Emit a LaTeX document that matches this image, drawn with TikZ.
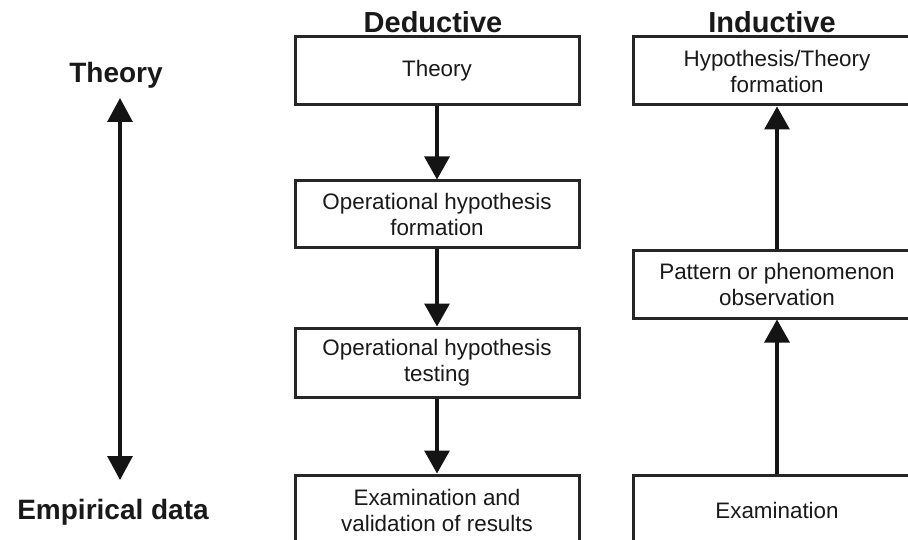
\documentclass[tikz,border=0pt]{standalone}
\usepackage{fontspec}
\setmainfont{Liberation Sans}
\usetikzlibrary{arrows.meta}
\tikzset{
  box/.style={draw=black!85, line width=3pt, inner sep=0pt, align=center,
    font=\fontsize{22.4}{26}\selectfont, text=black!90},
  head/.style={font=\fontsize{29}{32}\selectfont\bfseries, inner sep=0pt, text=black!90},
  side/.style={font=\fontsize{28}{32}\selectfont\bfseries, inner sep=0pt, text=black!90},
  conn/.style={line width=3.2pt, draw=black!92, -{Triangle[width=25pt,length=23pt]}},
  both/.style={line width=3.2pt, draw=black!92, {Triangle[width=25pt,length=24pt]}-{Triangle[width=25pt,length=24pt]}}
}
\begin{document}
\begin{tikzpicture}[x=1pt,y=-1pt]
\useasboundingbox (0,0) rectangle (908,540);
% side labels
\node[side] (lblT) at (116,75) {Theory};
\node[side] (lblE) at (113,512) {Empirical data};
\coordinate (axTop) at (120,98);
\coordinate (axBot) at (120,480);
\draw[both] (axBot) -- (axTop);
% headings
\node[head] (hD) at (433,22) {Deductive};
\node[head] (hI) at (772,22) {Inductive};
% deductive column
\node[box, minimum width=284pt, minimum height=68pt] (d1) at (437,71) {Theory};
\node[box, minimum width=284pt, minimum height=67pt] (d2) at (437,214.5) {Operational hypothesis\\formation};
\node[box, minimum width=284pt, minimum height=69pt] (d3) at (437,362.5) {Operational hypothesis\\testing};
\node[box, minimum width=284pt, minimum height=70pt] (d4) at (437,510) {Examination and\\validation of results};
\draw[conn] (d1.south) -- (d2.north);
\draw[conn] (d2.south) -- (d3.north);
\draw[conn] (d3.south) -- (d4.north);
% inductive column
\node[box, minimum width=288pt, minimum height=68pt] (i1) at (777,71) {Hypothesis/Theory\\formation};
\node[box, minimum width=288pt, minimum height=67pt] (i2) at (777,284.5) {Pattern or phenomenon\\observation};
\node[box, minimum width=288pt, minimum height=70pt] (i3) at (777,510) {Examination};
\draw[conn] (i3.north) -- (i2.south);
\draw[conn] (i2.north) -- (i1.south);
\end{tikzpicture}
\end{document}
